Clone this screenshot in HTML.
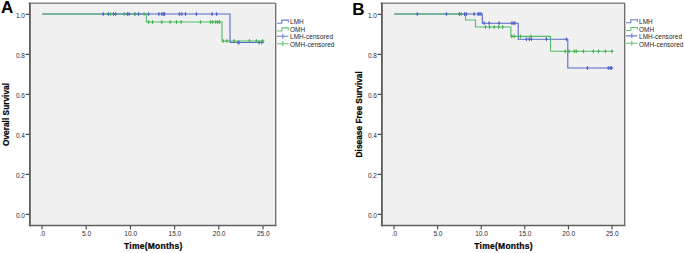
<!DOCTYPE html>
<html><head><meta charset="utf-8"><style>
html,body{margin:0;padding:0;background:#fff;width:685px;height:253px;overflow:hidden}
svg{display:block}
text{font-family:"Liberation Sans", sans-serif}
.ax{font-size:6.5px;fill:#2a2a2a}
.tt{font-size:8.5px;font-weight:bold;fill:#000;stroke:#000;stroke-width:0.2px}
.tx{letter-spacing:0.25px}
.ty{font-size:8.35px}
.pl{font-size:17px;font-weight:bold;fill:#000}
.lg{font-size:6.4px;letter-spacing:0.1px;fill:#1a1a1a}
</style></head><body>
<svg width="685" height="253" viewBox="0 0 685 253">
<defs><pattern id="dots" width="3" height="3" patternUnits="userSpaceOnUse"><rect x="1" y="1" width="1" height="1" fill="#f6f6f6"/></pattern></defs>
<rect x="29" y="3" width="246" height="222" fill="#f0f0f0"/>
<rect x="29" y="3" width="246" height="222" fill="url(#dots)"/>
<path d="M42,14 L117,14" fill="none" stroke="#5669c6" stroke-width="1.1" stroke-linejoin="miter"/>
<path d="M42,14 L146.4,14 L146.4,22 L222,22 L222,41 L264.5,41" fill="none" stroke="#52b96a" stroke-width="1.1" stroke-linejoin="miter"/>
<path d="M117,14 L230,14 L230,42.5 L264,42.5" fill="none" stroke="#5669c6" stroke-width="1.1" stroke-linejoin="miter"/>
<path d="M103.2,12.1 V15.9" stroke="#5064c4" stroke-width="1.0"/><path d="M102.2,14 H104.2" stroke="#5064c4" stroke-width="1.3"/>
<path d="M108.3,12.1 V15.9" stroke="#5064c4" stroke-width="1.0"/><path d="M107.3,14 H109.3" stroke="#5064c4" stroke-width="1.3"/>
<path d="M113.5,12.1 V15.9" stroke="#5064c4" stroke-width="1.0"/><path d="M112.5,14 H114.5" stroke="#5064c4" stroke-width="1.3"/>
<path d="M115.6,12.1 V15.9" stroke="#5064c4" stroke-width="1.0"/><path d="M114.6,14 H116.6" stroke="#5064c4" stroke-width="1.3"/>
<path d="M127.4,12.1 V15.9" stroke="#5064c4" stroke-width="1.0"/><path d="M126.4,14 H128.4" stroke="#5064c4" stroke-width="1.3"/>
<path d="M129.1,12.1 V15.9" stroke="#5064c4" stroke-width="1.0"/><path d="M128.1,14 H130.1" stroke="#5064c4" stroke-width="1.3"/>
<path d="M134.8,12.1 V15.9" stroke="#5064c4" stroke-width="1.0"/><path d="M133.8,14 H135.8" stroke="#5064c4" stroke-width="1.3"/>
<path d="M138.6,12.1 V15.9" stroke="#5064c4" stroke-width="1.0"/><path d="M137.6,14 H139.6" stroke="#5064c4" stroke-width="1.3"/>
<path d="M148.6,12.1 V15.9" stroke="#5064c4" stroke-width="1.0"/><path d="M147.6,14 H149.6" stroke="#5064c4" stroke-width="1.3"/>
<path d="M158.9,12.1 V15.9" stroke="#5064c4" stroke-width="1.0"/><path d="M157.9,14 H159.9" stroke="#5064c4" stroke-width="1.3"/>
<path d="M161.8,12.1 V15.9" stroke="#5064c4" stroke-width="1.0"/><path d="M160.8,14 H162.8" stroke="#5064c4" stroke-width="1.3"/>
<path d="M163.2,12.1 V15.9" stroke="#5064c4" stroke-width="1.0"/><path d="M162.2,14 H164.2" stroke="#5064c4" stroke-width="1.3"/>
<path d="M164.5,12.1 V15.9" stroke="#5064c4" stroke-width="1.0"/><path d="M163.5,14 H165.5" stroke="#5064c4" stroke-width="1.3"/>
<path d="M179.3,12.1 V15.9" stroke="#5064c4" stroke-width="1.0"/><path d="M178.3,14 H180.3" stroke="#5064c4" stroke-width="1.3"/>
<path d="M181.8,12.1 V15.9" stroke="#5064c4" stroke-width="1.0"/><path d="M180.8,14 H182.8" stroke="#5064c4" stroke-width="1.3"/>
<path d="M185.5,12.1 V15.9" stroke="#5064c4" stroke-width="1.0"/><path d="M184.5,14 H186.5" stroke="#5064c4" stroke-width="1.3"/>
<path d="M196.4,12.1 V15.9" stroke="#5064c4" stroke-width="1.0"/><path d="M195.4,14 H197.4" stroke="#5064c4" stroke-width="1.3"/>
<path d="M212.1,12.1 V15.9" stroke="#5064c4" stroke-width="1.0"/><path d="M211.1,14 H213.1" stroke="#5064c4" stroke-width="1.3"/>
<path d="M216.6,12.1 V15.9" stroke="#5064c4" stroke-width="1.0"/><path d="M215.6,14 H217.6" stroke="#5064c4" stroke-width="1.3"/>
<path d="M238.2,40.6 V44.4" stroke="#5064c4" stroke-width="1.0"/><path d="M237.2,42.5 H239.2" stroke="#5064c4" stroke-width="1.3"/>
<path d="M239.1,40.6 V44.4" stroke="#5064c4" stroke-width="1.0"/><path d="M238.1,42.5 H240.1" stroke="#5064c4" stroke-width="1.3"/>
<path d="M259.1,40.6 V44.4" stroke="#5064c4" stroke-width="1.0"/><path d="M258.1,42.5 H260.1" stroke="#5064c4" stroke-width="1.3"/>
<path d="M261.8,40.6 V44.4" stroke="#5064c4" stroke-width="1.0"/><path d="M260.8,42.5 H262.8" stroke="#5064c4" stroke-width="1.3"/>
<path d="M110.6,12.1 V15.9" stroke="#44b452" stroke-width="1.0"/><path d="M109.6,14 H111.6" stroke="#44b452" stroke-width="1.3"/>
<path d="M124.1,12.1 V15.9" stroke="#44b452" stroke-width="1.0"/><path d="M123.1,14 H125.1" stroke="#44b452" stroke-width="1.3"/>
<path d="M134.8,12.1 V15.9" stroke="#44b452" stroke-width="1.0"/><path d="M133.8,14 H135.8" stroke="#44b452" stroke-width="1.3"/>
<path d="M144.1,12.1 V15.9" stroke="#44b452" stroke-width="1.0"/><path d="M143.1,14 H145.1" stroke="#44b452" stroke-width="1.3"/>
<path d="M148.6,20.1 V23.9" stroke="#44b452" stroke-width="1.0"/><path d="M147.6,22 H149.6" stroke="#44b452" stroke-width="1.3"/>
<path d="M152.5,20.1 V23.9" stroke="#44b452" stroke-width="1.0"/><path d="M151.5,22 H153.5" stroke="#44b452" stroke-width="1.3"/>
<path d="M161.8,20.1 V23.9" stroke="#44b452" stroke-width="1.0"/><path d="M160.8,22 H162.8" stroke="#44b452" stroke-width="1.3"/>
<path d="M170.2,20.1 V23.9" stroke="#44b452" stroke-width="1.0"/><path d="M169.2,22 H171.2" stroke="#44b452" stroke-width="1.3"/>
<path d="M176.5,20.1 V23.9" stroke="#44b452" stroke-width="1.0"/><path d="M175.5,22 H177.5" stroke="#44b452" stroke-width="1.3"/>
<path d="M181.1,20.1 V23.9" stroke="#44b452" stroke-width="1.0"/><path d="M180.1,22 H182.1" stroke="#44b452" stroke-width="1.3"/>
<path d="M200.5,20.1 V23.9" stroke="#44b452" stroke-width="1.0"/><path d="M199.5,22 H201.5" stroke="#44b452" stroke-width="1.3"/>
<path d="M210.5,20.1 V23.9" stroke="#44b452" stroke-width="1.0"/><path d="M209.5,22 H211.5" stroke="#44b452" stroke-width="1.3"/>
<path d="M212.7,20.1 V23.9" stroke="#44b452" stroke-width="1.0"/><path d="M211.7,22 H213.7" stroke="#44b452" stroke-width="1.3"/>
<path d="M215.7,20.1 V23.9" stroke="#44b452" stroke-width="1.0"/><path d="M214.7,22 H216.7" stroke="#44b452" stroke-width="1.3"/>
<path d="M217.7,20.1 V23.9" stroke="#44b452" stroke-width="1.0"/><path d="M216.7,22 H218.7" stroke="#44b452" stroke-width="1.3"/>
<path d="M219.5,20.1 V23.9" stroke="#44b452" stroke-width="1.0"/><path d="M218.5,22 H220.5" stroke="#44b452" stroke-width="1.3"/>
<path d="M223.2,39.1 V42.9" stroke="#44b452" stroke-width="1.0"/><path d="M222.2,41 H224.2" stroke="#44b452" stroke-width="1.3"/>
<path d="M226.8,39.1 V42.9" stroke="#44b452" stroke-width="1.0"/><path d="M225.8,41 H227.8" stroke="#44b452" stroke-width="1.3"/>
<path d="M234.1,39.1 V42.9" stroke="#44b452" stroke-width="1.0"/><path d="M233.1,41 H235.1" stroke="#44b452" stroke-width="1.3"/>
<path d="M249.5,39.1 V42.9" stroke="#44b452" stroke-width="1.0"/><path d="M248.5,41 H250.5" stroke="#44b452" stroke-width="1.3"/>
<path d="M256.4,39.1 V42.9" stroke="#44b452" stroke-width="1.0"/><path d="M255.39999999999998,41 H257.4" stroke="#44b452" stroke-width="1.3"/>
<path d="M262.7,39.1 V42.9" stroke="#44b452" stroke-width="1.0"/><path d="M261.7,41 H263.7" stroke="#44b452" stroke-width="1.3"/>
<path d="M28.5,3.3 H275.7" stroke="#8a8a8a" stroke-width="1.4"/>
<path d="M275.7,3 V226" stroke="#6a6a6a" stroke-width="1.3"/>
<path d="M28.8,225.5 H276.3" stroke="#606060" stroke-width="1.5"/>
<path d="M29.9,2.7 V226.2" stroke="#5a5a5a" stroke-width="1.8"/>
<path d="M25.7,14.35 H29" stroke="#444" stroke-width="1.2"/>
<text x="25.0" y="18.0" text-anchor="end" class="ax">1.0</text>
<path d="M25.7,54.35 H29" stroke="#444" stroke-width="1.2"/>
<text x="25.0" y="58.0" text-anchor="end" class="ax">0.8</text>
<path d="M25.7,94.35 H29" stroke="#444" stroke-width="1.2"/>
<text x="25.0" y="98.0" text-anchor="end" class="ax">0.6</text>
<path d="M25.7,134.35 H29" stroke="#444" stroke-width="1.2"/>
<text x="25.0" y="138.0" text-anchor="end" class="ax">0.4</text>
<path d="M25.7,174.35 H29" stroke="#444" stroke-width="1.2"/>
<text x="25.0" y="178.0" text-anchor="end" class="ax">0.2</text>
<path d="M25.7,214.35 H29" stroke="#444" stroke-width="1.2"/>
<text x="25.0" y="218.0" text-anchor="end" class="ax">0.0</text>
<path d="M42.0,226 V229.5" stroke="#444" stroke-width="1.1"/>
<text x="42.3" y="235.6" text-anchor="middle" class="ax">.0</text>
<path d="M86.2,226 V229.5" stroke="#444" stroke-width="1.1"/>
<text x="86.5" y="235.6" text-anchor="middle" class="ax">5.0</text>
<path d="M130.4,226 V229.5" stroke="#444" stroke-width="1.1"/>
<text x="130.70000000000002" y="235.6" text-anchor="middle" class="ax">10.0</text>
<path d="M174.6,226 V229.5" stroke="#444" stroke-width="1.1"/>
<text x="174.9" y="235.6" text-anchor="middle" class="ax">15.0</text>
<path d="M218.8,226 V229.5" stroke="#444" stroke-width="1.1"/>
<text x="219.10000000000002" y="235.6" text-anchor="middle" class="ax">20.0</text>
<path d="M263.0,226 V229.5" stroke="#444" stroke-width="1.1"/>
<text x="263.3" y="235.6" text-anchor="middle" class="ax">25.0</text>
<text x="153.3" y="249.3" text-anchor="middle" class="tt tx">Time(Months)</text>
<text transform="translate(9.1,114.5) rotate(-90)" text-anchor="middle" class="tt ty">Overall Survival</text>
<text x="0.9" y="13.2" class="pl">A</text>
<path d="M277,23.2 H281.8 V20.1 H288.3 V22.5" fill="none" stroke="#6a7ccc" stroke-width="1.1"/>
<text x="290" y="24.25" class="lg">LMH</text>
<path d="M277,30.95 H281.8 V27.85 H288.3 V30.25" fill="none" stroke="#62c474" stroke-width="1.1"/>
<text x="290" y="31.9" class="lg">OMH</text>
<path d="M277,36.3 H288.3 M282.8,33.699999999999996 V38.699999999999996" fill="none" stroke="#6a7ccc" stroke-width="1.1"/>
<text x="290" y="39.1" class="lg">LMH-censored</text>
<path d="M277,43.7 H288.3 M282.8,41.1 V46.1" fill="none" stroke="#62c474" stroke-width="1.1"/>
<text x="290" y="47.05" class="lg">OMH-censored</text>
<rect x="381" y="3" width="243" height="222" fill="#f0f0f0"/>
<rect x="381" y="3" width="243" height="222" fill="url(#dots)"/>
<path d="M394,14 L482.3,14 L482.3,23.2 L518.2,23.2 L518.2,39.2 L567.8,39.2 L567.8,68 L613.5,68" fill="none" stroke="#5669c6" stroke-width="1.1" stroke-linejoin="miter"/>
<path d="M394,14 L465.5,14 L465.5,20 L475.5,20 L475.5,27 L510.9,27 L510.9,36.4 L550.5,36.4 L550.5,51.3 L613.5,51.3" fill="none" stroke="#52b96a" stroke-width="1.1" stroke-linejoin="miter"/>
<path d="M417.3,12.1 V15.9" stroke="#5064c4" stroke-width="1.0"/><path d="M416.3,14 H418.3" stroke="#5064c4" stroke-width="1.3"/>
<path d="M446.4,12.1 V15.9" stroke="#5064c4" stroke-width="1.0"/><path d="M445.4,14 H447.4" stroke="#5064c4" stroke-width="1.3"/>
<path d="M459.4,12.1 V15.9" stroke="#5064c4" stroke-width="1.0"/><path d="M458.4,14 H460.4" stroke="#5064c4" stroke-width="1.3"/>
<path d="M464.5,12.1 V15.9" stroke="#5064c4" stroke-width="1.0"/><path d="M463.5,14 H465.5" stroke="#5064c4" stroke-width="1.3"/>
<path d="M466.4,12.1 V15.9" stroke="#5064c4" stroke-width="1.0"/><path d="M465.4,14 H467.4" stroke="#5064c4" stroke-width="1.3"/>
<path d="M474.1,12.1 V15.9" stroke="#5064c4" stroke-width="1.0"/><path d="M473.1,14 H475.1" stroke="#5064c4" stroke-width="1.3"/>
<path d="M478.2,12.1 V15.9" stroke="#5064c4" stroke-width="1.0"/><path d="M477.2,14 H479.2" stroke="#5064c4" stroke-width="1.3"/>
<path d="M479.1,12.1 V15.9" stroke="#5064c4" stroke-width="1.0"/><path d="M478.1,14 H480.1" stroke="#5064c4" stroke-width="1.3"/>
<path d="M480.9,12.1 V15.9" stroke="#5064c4" stroke-width="1.0"/><path d="M479.9,14 H481.9" stroke="#5064c4" stroke-width="1.3"/>
<path d="M484.1,21.3 V25.099999999999998" stroke="#5064c4" stroke-width="1.0"/><path d="M483.1,23.2 H485.1" stroke="#5064c4" stroke-width="1.3"/>
<path d="M489.1,21.3 V25.099999999999998" stroke="#5064c4" stroke-width="1.0"/><path d="M488.1,23.2 H490.1" stroke="#5064c4" stroke-width="1.3"/>
<path d="M499.1,21.3 V25.099999999999998" stroke="#5064c4" stroke-width="1.0"/><path d="M498.1,23.2 H500.1" stroke="#5064c4" stroke-width="1.3"/>
<path d="M511.8,21.3 V25.099999999999998" stroke="#5064c4" stroke-width="1.0"/><path d="M510.8,23.2 H512.8" stroke="#5064c4" stroke-width="1.3"/>
<path d="M513.4,21.3 V25.099999999999998" stroke="#5064c4" stroke-width="1.0"/><path d="M512.4,23.2 H514.4" stroke="#5064c4" stroke-width="1.3"/>
<path d="M515,21.3 V25.099999999999998" stroke="#5064c4" stroke-width="1.0"/><path d="M514.0,23.2 H516.0" stroke="#5064c4" stroke-width="1.3"/>
<path d="M526.4,37.300000000000004 V41.1" stroke="#5064c4" stroke-width="1.0"/><path d="M525.4,39.2 H527.4" stroke="#5064c4" stroke-width="1.3"/>
<path d="M529.3,37.300000000000004 V41.1" stroke="#5064c4" stroke-width="1.0"/><path d="M528.3,39.2 H530.3" stroke="#5064c4" stroke-width="1.3"/>
<path d="M531.4,37.300000000000004 V41.1" stroke="#5064c4" stroke-width="1.0"/><path d="M530.4,39.2 H532.4" stroke="#5064c4" stroke-width="1.3"/>
<path d="M546.4,37.300000000000004 V41.1" stroke="#5064c4" stroke-width="1.0"/><path d="M545.4,39.2 H547.4" stroke="#5064c4" stroke-width="1.3"/>
<path d="M566.4,37.300000000000004 V41.1" stroke="#5064c4" stroke-width="1.0"/><path d="M565.4,39.2 H567.4" stroke="#5064c4" stroke-width="1.3"/>
<path d="M587.4,66.1 V69.9" stroke="#5064c4" stroke-width="1.0"/><path d="M586.4,68 H588.4" stroke="#5064c4" stroke-width="1.3"/>
<path d="M608.3,66.1 V69.9" stroke="#5064c4" stroke-width="1.0"/><path d="M607.3,68 H609.3" stroke="#5064c4" stroke-width="1.3"/>
<path d="M610.2,66.1 V69.9" stroke="#5064c4" stroke-width="1.0"/><path d="M609.2,68 H611.2" stroke="#5064c4" stroke-width="1.3"/>
<path d="M611.5,66.1 V69.9" stroke="#5064c4" stroke-width="1.0"/><path d="M610.5,68 H612.5" stroke="#5064c4" stroke-width="1.3"/>
<path d="M461.4,12.1 V15.9" stroke="#44b452" stroke-width="1.0"/><path d="M460.4,14 H462.4" stroke="#44b452" stroke-width="1.3"/>
<path d="M485.5,25.1 V28.9" stroke="#44b452" stroke-width="1.0"/><path d="M484.5,27 H486.5" stroke="#44b452" stroke-width="1.3"/>
<path d="M489.5,25.1 V28.9" stroke="#44b452" stroke-width="1.0"/><path d="M488.5,27 H490.5" stroke="#44b452" stroke-width="1.3"/>
<path d="M494.1,25.1 V28.9" stroke="#44b452" stroke-width="1.0"/><path d="M493.1,27 H495.1" stroke="#44b452" stroke-width="1.3"/>
<path d="M498.6,25.1 V28.9" stroke="#44b452" stroke-width="1.0"/><path d="M497.6,27 H499.6" stroke="#44b452" stroke-width="1.3"/>
<path d="M502.7,25.1 V28.9" stroke="#44b452" stroke-width="1.0"/><path d="M501.7,27 H503.7" stroke="#44b452" stroke-width="1.3"/>
<path d="M511.8,34.5 V38.3" stroke="#44b452" stroke-width="1.0"/><path d="M510.8,36.4 H512.8" stroke="#44b452" stroke-width="1.3"/>
<path d="M514.1,34.5 V38.3" stroke="#44b452" stroke-width="1.0"/><path d="M513.1,36.4 H515.1" stroke="#44b452" stroke-width="1.3"/>
<path d="M520.5,34.5 V38.3" stroke="#44b452" stroke-width="1.0"/><path d="M519.5,36.4 H521.5" stroke="#44b452" stroke-width="1.3"/>
<path d="M530.9,34.5 V38.3" stroke="#44b452" stroke-width="1.0"/><path d="M529.9,36.4 H531.9" stroke="#44b452" stroke-width="1.3"/>
<path d="M565.2,49.4 V53.199999999999996" stroke="#44b452" stroke-width="1.0"/><path d="M564.2,51.3 H566.2" stroke="#44b452" stroke-width="1.3"/>
<path d="M568.9,49.4 V53.199999999999996" stroke="#44b452" stroke-width="1.0"/><path d="M567.9,51.3 H569.9" stroke="#44b452" stroke-width="1.3"/>
<path d="M574.3,49.4 V53.199999999999996" stroke="#44b452" stroke-width="1.0"/><path d="M573.3,51.3 H575.3" stroke="#44b452" stroke-width="1.3"/>
<path d="M576.3,49.4 V53.199999999999996" stroke="#44b452" stroke-width="1.0"/><path d="M575.3,51.3 H577.3" stroke="#44b452" stroke-width="1.3"/>
<path d="M583.5,49.4 V53.199999999999996" stroke="#44b452" stroke-width="1.0"/><path d="M582.5,51.3 H584.5" stroke="#44b452" stroke-width="1.3"/>
<path d="M593.3,49.4 V53.199999999999996" stroke="#44b452" stroke-width="1.0"/><path d="M592.3,51.3 H594.3" stroke="#44b452" stroke-width="1.3"/>
<path d="M598.5,49.4 V53.199999999999996" stroke="#44b452" stroke-width="1.0"/><path d="M597.5,51.3 H599.5" stroke="#44b452" stroke-width="1.3"/>
<path d="M605.4,49.4 V53.199999999999996" stroke="#44b452" stroke-width="1.0"/><path d="M604.4,51.3 H606.4" stroke="#44b452" stroke-width="1.3"/>
<path d="M611.9,49.4 V53.199999999999996" stroke="#44b452" stroke-width="1.0"/><path d="M610.9,51.3 H612.9" stroke="#44b452" stroke-width="1.3"/>
<path d="M380.5,3.3 H624.7" stroke="#8a8a8a" stroke-width="1.4"/>
<path d="M624.7,3 V226" stroke="#6a6a6a" stroke-width="1.3"/>
<path d="M380.8,225.5 H625.3" stroke="#606060" stroke-width="1.5"/>
<path d="M381.9,2.7 V226.2" stroke="#5a5a5a" stroke-width="1.8"/>
<path d="M377.7,14.35 H381" stroke="#444" stroke-width="1.2"/>
<text x="377.0" y="18.0" text-anchor="end" class="ax">1.0</text>
<path d="M377.7,54.35 H381" stroke="#444" stroke-width="1.2"/>
<text x="377.0" y="58.0" text-anchor="end" class="ax">0.8</text>
<path d="M377.7,94.35 H381" stroke="#444" stroke-width="1.2"/>
<text x="377.0" y="98.0" text-anchor="end" class="ax">0.6</text>
<path d="M377.7,134.35 H381" stroke="#444" stroke-width="1.2"/>
<text x="377.0" y="138.0" text-anchor="end" class="ax">0.4</text>
<path d="M377.7,174.35 H381" stroke="#444" stroke-width="1.2"/>
<text x="377.0" y="178.0" text-anchor="end" class="ax">0.2</text>
<path d="M377.7,214.35 H381" stroke="#444" stroke-width="1.2"/>
<text x="377.0" y="218.0" text-anchor="end" class="ax">0.0</text>
<path d="M394.0,226 V229.5" stroke="#444" stroke-width="1.1"/>
<text x="394.3" y="235.6" text-anchor="middle" class="ax">.0</text>
<path d="M437.6,226 V229.5" stroke="#444" stroke-width="1.1"/>
<text x="437.90000000000003" y="235.6" text-anchor="middle" class="ax">5.0</text>
<path d="M481.2,226 V229.5" stroke="#444" stroke-width="1.1"/>
<text x="481.5" y="235.6" text-anchor="middle" class="ax">10.0</text>
<path d="M524.8,226 V229.5" stroke="#444" stroke-width="1.1"/>
<text x="525.0999999999999" y="235.6" text-anchor="middle" class="ax">15.0</text>
<path d="M568.4,226 V229.5" stroke="#444" stroke-width="1.1"/>
<text x="568.6999999999999" y="235.6" text-anchor="middle" class="ax">20.0</text>
<path d="M612.0,226 V229.5" stroke="#444" stroke-width="1.1"/>
<text x="612.3" y="235.6" text-anchor="middle" class="ax">25.0</text>
<text x="503.6" y="249.3" text-anchor="middle" class="tt tx">Time(Months)</text>
<text transform="translate(361.8,114.3) rotate(-90)" text-anchor="middle" class="tt ty">Disease Free Survival</text>
<text x="352.2" y="14.9" class="pl">B</text>
<path d="M626,22.8 H630.8 V19.700000000000003 H637.3 V22.1" fill="none" stroke="#6a7ccc" stroke-width="1.1"/>
<text x="639" y="23.85" class="lg">LMH</text>
<path d="M626,30.55 H630.8 V27.450000000000003 H637.3 V29.85" fill="none" stroke="#62c474" stroke-width="1.1"/>
<text x="639" y="31.5" class="lg">OMH</text>
<path d="M626,35.900000000000006 H637.3 M631.8,33.300000000000004 V38.300000000000004" fill="none" stroke="#6a7ccc" stroke-width="1.1"/>
<text x="639" y="38.7" class="lg">LMH-censored</text>
<path d="M626,43.3 H637.3 M631.8,40.699999999999996 V45.699999999999996" fill="none" stroke="#62c474" stroke-width="1.1"/>
<text x="639" y="46.650000000000006" class="lg">OMH-censored</text>
</svg>
</body></html>
